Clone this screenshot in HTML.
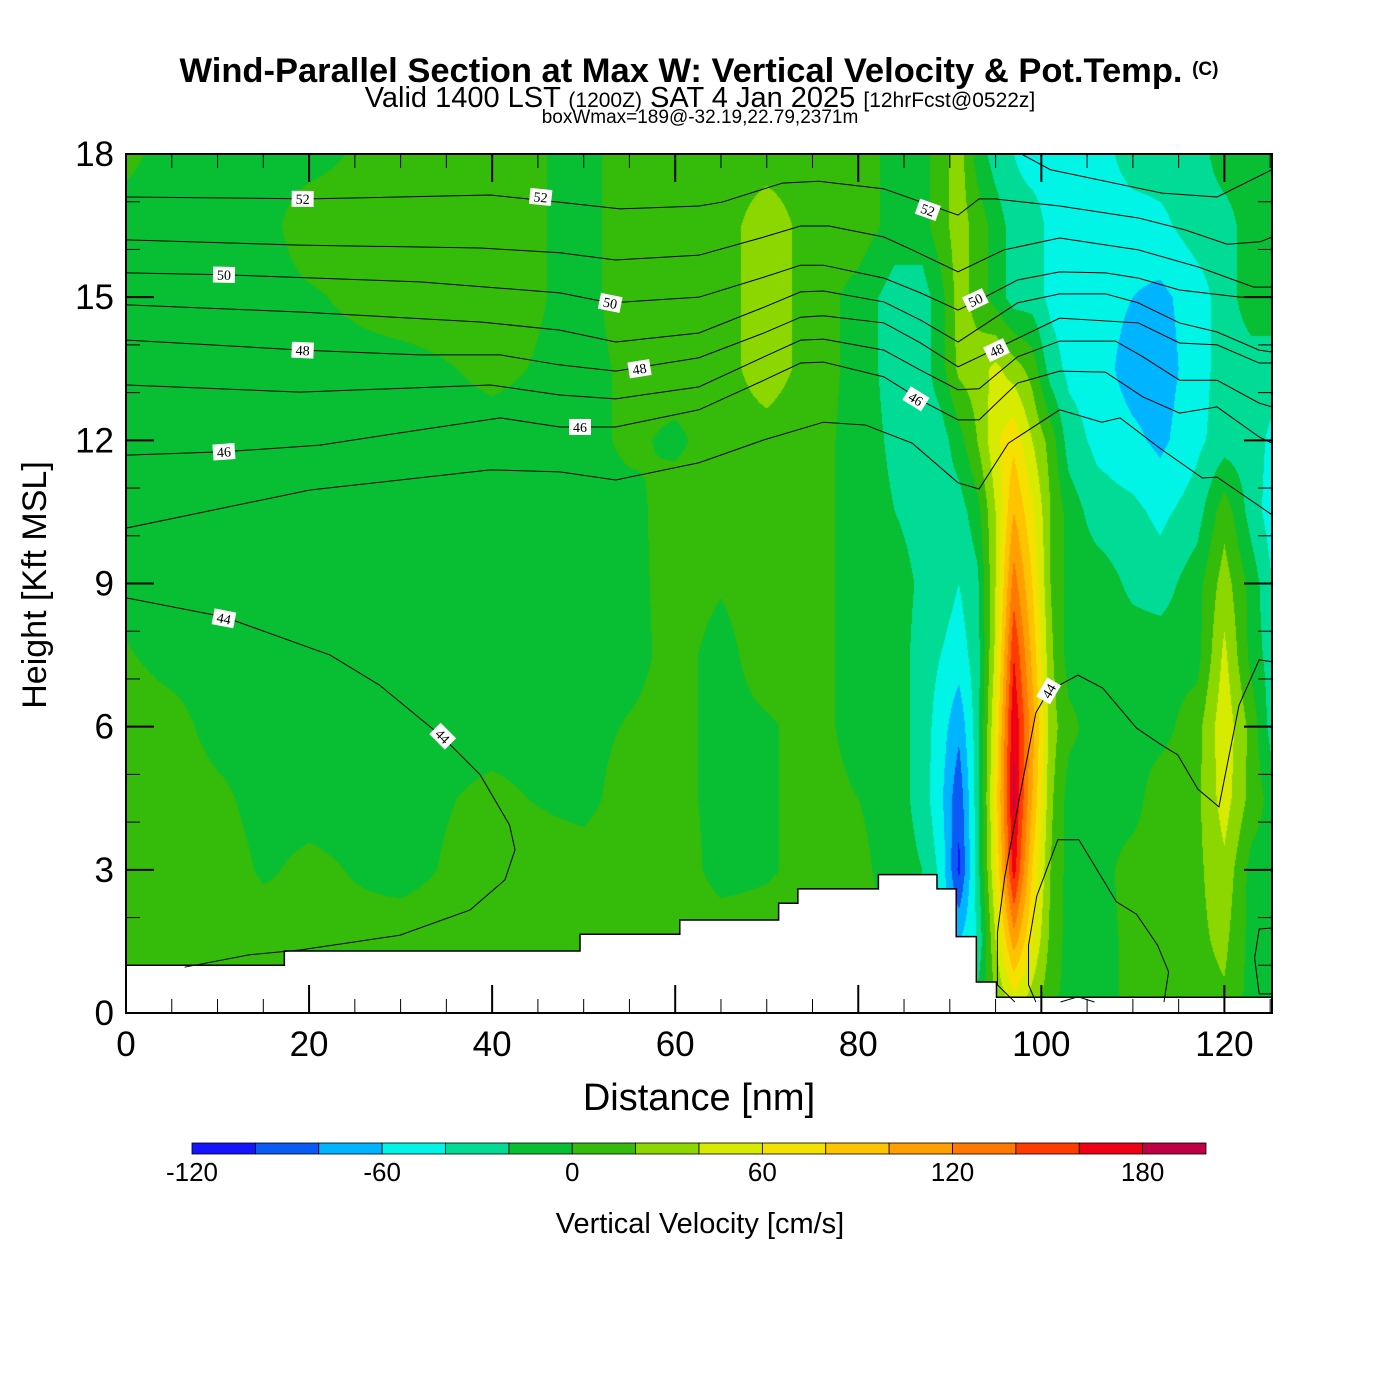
<!DOCTYPE html>
<html><head><meta charset="utf-8"><style>
html,body{margin:0;padding:0;background:#fff;}
#wrap{position:relative;width:1400px;height:1400px;font-family:"Liberation Sans",Arial,sans-serif;}
canvas{position:absolute;left:126px;top:154px;}
svg{position:absolute;left:0;top:0;}
</style></head><body>
<div id="wrap">
<canvas id="cv" width="1146" height="859"></canvas>
<svg id="sv" width="1400" height="1400">
<text x="699" y="82" text-anchor="middle" font-size="34.5" font-weight="bold">Wind-Parallel Section at Max W: Vertical Velocity &amp; Pot.Temp. <tspan font-size="19" dy="-7">(C)</tspan></text>
<text x="700" y="107" text-anchor="middle" font-size="29">Valid 1400 LST <tspan font-size="21">(1200Z)</tspan> SAT 4 Jan 2025 <tspan font-size="21">[12hrFcst@0522z]</tspan></text>
<text x="700" y="123" text-anchor="middle" font-size="19">boxWmax=189@-32.19,22.79,2371m</text>
<text x="699" y="1110" text-anchor="middle" font-size="38">Distance [nm]</text>
<text transform="translate(46,585) rotate(-90)" text-anchor="middle" font-size="34">Height [Kft MSL]</text>
<text x="700" y="1233" text-anchor="middle" font-size="29">Vertical Velocity [cm/s]</text>
</svg>
</div>
<script>
// ---- data ----
const xs=[0,5,10,15,20,30,40,50,55,60,65,70,75,80,84,87,89,91,93,95,97,99,101,103,106,110,113,117,120,123,125.2];
const ys=[0,1.5,3,4.5,6,7.5,9,10.5,12,13.5,15,16.5,18];
const w0=[12,12,12,12,12,12,12,12,12,12,12,12,12,12,-8,-8,-30,-30,-8,15,40,25,5,-8,-8,5,5,12,15,-8,-8];
const w1=[12,12,12,12,2,12,12,12,12,12,12,12,12,12,-8,-30,-50,-60,-40,40,110,60,15,-8,-8,5,10,15,25,-8,-8];
const w2=[12,12,12,-3,5,-8,12,12,12,12,-8,-3,8,5,-8,-20,-45,-105,-30,60,170,80,20,-8,-8,8,8,15,35,-8,-8];
const w3=[12,12,5,-8,-8,-8,5,-8,12,8,-8,-3,8,0,-8,-30,-55,-95,-30,70,185,100,25,-8,-8,-8,12,15,50,12,-8];
const w4=[12,8,-8,-8,-8,-8,-8,-8,2,8,-8,-3,8,-8,-8,-30,-50,-75,-30,60,180,110,30,5,-8,-8,-8,12,55,12,-30];
const w5=[2,-8,-8,-8,-8,-8,-8,-8,-8,8,-8,12,8,-8,-8,-30,-40,-50,-30,45,160,95,25,-8,-8,-8,-8,-8,45,-8,-30];
const w6=[-8,-8,-8,-8,-8,-8,-8,-8,-8,10,2,12,8,-8,-8,-25,-30,-40,-25,40,130,80,20,-8,-8,-25,-30,-8,30,-8,-40];
const w7=[-8,-8,-8,-8,-8,-8,-8,-8,-8,12,12,12,8,-8,-20,-30,-30,-30,-8,40,100,65,20,-8,-30,-35,-45,-30,12,-30,-50];
const w8=[-8,-8,-8,-8,-8,-8,-8,-8,5,-5,12,12,8,-8,-25,-30,-30,-8,20,55,75,40,12,-30,-45,-55,-65,-45,-30,-30,-45];
const w9=[-8,-8,-8,-8,-8,-8,5,-8,5,12,12,30,12,-8,-30,-30,-8,25,30,45,30,12,-30,-45,-50,-70,-70,-50,-30,-30,-30];
const w10=[-8,-8,-8,-8,-3,12,12,-8,12,12,12,30,12,-8,-30,-30,-8,30,12,-8,-30,-30,-45,-50,-50,-60,-65,-50,-30,-8,-8];
const w11=[-8,-8,-8,-8,12,12,12,-8,12,12,12,30,12,12,-8,-8,12,30,12,-8,-30,-30,-45,-50,-50,-50,-45,-30,-30,-8,-8];
const w12=[5,-8,-8,-8,-8,12,12,-8,12,12,12,12,12,12,-8,-8,12,30,-8,-30,-40,-50,-50,-50,-50,-30,-30,-30,-8,-8,-8];
const field=[w0,w1,w2,w3,w4,w5,w6,w7,w8,w9,w10,w11,w12];
const levels=[-120,-100,-80,-60,-40,-20,0,20,40,60,80,100,120,140,160,180,200];
const cbLabels=[-120,-60,0,60,120,180];
const xTicks=[0,20,40,60,80,100,120];
const yTicks=[0,3,6,9,12,15,18];
const terrainX=[0,17.3,49.6,60.5,71.3,73.4,82.2,88.6,90.7,92.9,95.1,125.2];
const terrainH=[1.0,1.3,1.65,1.95,2.3,2.6,2.9,2.6,1.6,0.65,0.33];
const thT0=[[98.0,17.98],[101.0,17.67],[113.2,17.18],[119.2,17.10],[125.2,17.67]];
const th52=[[0,17.10],[20.0,17.06],[39.8,17.14],[47.4,16.99],[54.0,16.85],[62.6,16.91],[65.1,16.99],[71.7,17.39],[75.7,17.43],[82.8,17.27],[90.9,16.72],[93.2,17.06],[94.9,17.06],[102.0,16.91],[110.6,16.66],[115.7,16.41],[120.3,16.11],[123.9,16.16],[125.2,16.26]];
const th51=[[0,16.20],[19.0,16.09],[38.7,16.03],[47.4,15.93],[53.5,15.78],[62.6,15.88],[69.7,16.26],[73.7,16.49],[76.8,16.49],[82.8,16.26],[85.9,15.99],[90.9,15.53],[95.9,15.99],[102.0,16.24],[110.6,15.99],[117.2,15.63],[123.2,15.21],[125.2,15.21]];
const th50=[[0,15.51],[10.7,15.47],[32.1,15.32],[47.4,15.09],[52.9,14.88],[62.6,15.00],[69.7,15.42],[73.7,15.67],[76.2,15.67],[82.8,15.40],[86.8,15.09],[90.9,14.73],[93.2,14.94],[97.4,15.36],[102.0,15.53],[107.0,15.51],[110.6,15.40],[115.1,15.15],[121.7,15.00],[125.2,15.00]];
const th49=[[0,14.84],[19.0,14.69],[38.7,14.48],[47.4,14.31],[53.5,14.06],[62.6,14.25],[69.7,14.79],[73.7,15.11],[76.2,15.13],[82.8,14.90],[86.8,14.52],[90.9,14.06],[97.4,14.88],[102.0,15.07],[107.0,15.07],[110.6,14.88],[115.1,14.46],[119.2,14.27],[123.8,13.89],[125.2,13.85]];
const th48=[[0,14.10],[19.3,13.89],[32.1,13.79],[40.9,13.79],[47.4,13.58],[53.5,13.45],[62.6,13.73],[69.7,14.25],[73.7,14.58],[76.2,14.61],[82.8,14.46],[86.8,14.04],[90.9,13.54],[95.5,13.96],[102.0,14.56],[110.6,14.46],[115.1,14.04],[119.2,14.00],[123.8,13.62],[125.2,13.62]];
const th47=[[0,13.16],[19.0,13.01],[39.8,13.16],[47.4,12.95],[53.5,12.87],[62.6,13.12],[69.7,13.75],[73.7,14.10],[76.2,14.12],[82.8,13.89],[86.8,13.47],[90.9,13.06],[93.2,13.08],[97.4,13.75],[102.0,14.08],[108.1,14.08],[111.1,13.75],[115.1,13.26],[119.2,13.26],[123.8,12.78],[125.2,12.70]];
const th46=[[0,11.69],[10.7,11.76],[21.2,11.90],[32.1,12.22],[40.9,12.47],[47.4,12.28],[53.5,12.28],[62.6,12.64],[69.7,13.26],[73.7,13.62],[76.2,13.64],[82.8,13.33],[87.4,12.78],[90.9,12.43],[93.2,12.43],[97.4,13.20],[102.0,13.45],[107.0,13.43],[111.1,12.91],[115.1,12.57],[119.2,12.70],[123.8,12.07],[125.2,11.94]];
const th45=[[0,10.16],[20.1,10.96],[39.8,11.38],[47.4,11.34],[53.5,11.17],[62.6,11.53],[69.7,12.01],[76.2,12.38],[80.8,12.32],[85.9,11.94],[90.9,11.11],[93.2,10.98],[96.4,11.94],[102.0,12.64],[106.6,12.38],[108.6,12.47],[113.2,11.80],[117.6,11.21],[119.2,11.23],[125.2,10.44]];
const th44a=[[0,8.70],[10.7,8.30],[22.3,7.50],[27.7,6.87],[34.6,5.78],[38.7,4.99],[41.9,3.94],[42.5,3.42],[41.4,2.79],[37.6,2.16],[29.9,1.63],[19.0,1.32],[13.5,1.22],[6.4,0.96]];
const th44b=[[97.1,0.23],[95.2,0.59],[95.2,1.68],[96.0,2.85],[97.5,4.40],[99.4,6.29],[100.8,6.75],[104.0,7.08],[106.7,6.81],[110.4,5.97],[113.1,5.62],[114.9,5.41],[117.1,4.69],[119.4,4.32],[121.6,6.45],[123.8,7.40],[125.2,7.36]];
const th44c=[[99.4,0.23],[98.6,0.59],[98.6,1.42],[99.5,2.45],[101.8,3.63],[104.1,3.63],[108.2,2.33],[110.4,2.07],[112.7,1.42],[113.9,0.86],[113.4,0.23]];
const th44d=[[102.1,0.23],[104.0,0.34],[105.8,0.23]];
const th44e=[[125.2,1.78],[123.8,1.76],[123.3,1.15],[123.8,0.40],[125.2,0.40]];
const thLines=[thT0,th52,th51,th50,th49,th48,th47,th46,th45,th44a,th44b,th44c,th44d,th44e];
const labelText=["52","52","52","50","50","50","48","48","48","46","46","46","44","44","44"];
const labelNm=[19.3,45.3,87.6,10.7,52.9,92.8,19.3,56.1,95.1,10.7,49.6,86.3,10.7,34.6,100.8];
const labelKft=[17.06,17.10,16.83,15.47,14.88,14.94,13.89,13.50,13.89,11.76,12.28,12.87,8.27,5.80,6.75];
const labelLine=[1,1,1,3,3,3,5,5,5,7,7,7,9,9,10];
const colors=["#1414FF","#0A5AF5","#00B4FF","#00F5E6","#00DC96","#08BE32","#35BB0A","#8CD700","#D7EB00","#F5E100","#FFC300","#FFA000","#FF7800","#FF3C00","#F00014","#C00046"];

// ---- axes ----
const X0=126,X1=1272,Y0=1013,Y1=154,XMAX=125.2,YMAX=18;
const sx=v=>X0+v*(X1-X0)/XMAX;
const sy=v=>Y0-v*(Y0-Y1)/YMAX;
const NS="http://www.w3.org/2000/svg";
const svg=document.getElementById('sv');
function mk(tag,attrs,parent){const e=document.createElementNS(NS,tag);for(const k in attrs)e.setAttribute(k,attrs[k]);(parent||svg).appendChild(e);return e;}
function hex(c){return [parseInt(c.substr(1,2),16),parseInt(c.substr(3,2),16),parseInt(c.substr(5,2),16)];}
const rgb=colors.map(hex);

// ---- field (bilinear, banded) ----
const cv=document.getElementById('cv');const ctx=cv.getContext('2d');
const W=cv.width,H=cv.height;const img=ctx.createImageData(W,H);
const colIdx=[],colT=[];
for(let px=0;px<W;px++){const v=(px+0.5)*XMAX/W;let i=0;while(i<xs.length-2&&xs[i+1]<v)i++;colIdx.push(i);colT.push(Math.min(1,Math.max(0,(v-xs[i])/(xs[i+1]-xs[i]))));}
for(let py=0;py<H;py++){
  const k=YMAX-(py+0.5)*YMAX/H;let j=0;while(j<ys.length-2&&ys[j+1]<k)j++;
  const u=Math.min(1,Math.max(0,(k-ys[j])/(ys[j+1]-ys[j])));
  const ra=field[j],rb=field[j+1];
  for(let px=0;px<W;px++){
    const i=colIdx[px],t=colT[px];
    const a=ra[i]*(1-t)+ra[i+1]*t,b=rb[i]*(1-t)+rb[i+1]*t;
    const v=a*(1-u)+b*u;
    let bi=Math.floor((v-levels[0])/20);if(bi<0)bi=0;if(bi>15)bi=15;
    const c=rgb[bi];const o=(py*W+px)*4;
    img.data[o]=c[0];img.data[o+1]=c[1];img.data[o+2]=c[2];img.data[o+3]=255;
  }
}
ctx.putImageData(img,0,0);

// ---- terrain ----
let tp=`M${sx(0)},${Y0}`;
let tl=`M${sx(0)},${sy(terrainH[0])}`;
for(let i=0;i<terrainH.length;i++){tp+=` L${sx(terrainX[i])},${sy(terrainH[i])} L${sx(terrainX[i+1])},${sy(terrainH[i])}`;tl+=` L${sx(terrainX[i])},${sy(terrainH[i])} L${sx(terrainX[i+1])},${sy(terrainH[i])}`;}
tp+=` L${sx(XMAX)},${Y0} Z`;
const terr=mk('path',{d:tp,fill:'#fff',stroke:'none'});


const terrLine=mk('path',{d:tl,fill:'none',stroke:'#000','stroke-width':1.5});



// ---- theta contours ----
thLines.forEach((ln,li)=>{
  const p=mk('polyline',{points:ln.map(q=>sx(q[0])+','+sy(q[1])).join(' '),fill:'none',stroke:'#000','stroke-width':1});
  
  
});
labelText.forEach((t,i)=>{
  const ln=thLines[labelLine[i]];
  let best=0,bd=1e9;
  for(let s=0;s<ln.length-1;s++){const mx=(ln[s][0]+ln[s+1][0])/2,my=(ln[s][1]+ln[s+1][1])/2;const d=Math.hypot(sx(mx)-sx(labelNm[i]),sy(my)-sy(labelKft[i]));if(d<bd){bd=d;best=s;}}
  const a=ln[best],b=ln[best+1];
  let ang=Math.atan2(sy(b[1])-sy(a[1]),sx(b[0])-sx(a[0]))*180/Math.PI;
  if(ang>90)ang-=180;if(ang<-90)ang+=180;
  const g=mk('g',{transform:`translate(${sx(labelNm[i])},${sy(labelKft[i])}) rotate(${ang})`});
  
  
  mk('rect',{x:-11,y:-8,width:22,height:16,fill:'#fff'},g);
  const tx=mk('text',{x:0,y:5,'text-anchor':'middle','font-size':14,'font-family':'Liberation Serif,serif'},g);
  tx.textContent=t;
});

// ---- frame & ticks ----
const fr=mk('rect',{x:X0,y:Y1,width:X1-X0,height:Y0-Y1,fill:'none',stroke:'#000','stroke-width':2});


for(let v=0;v<=125;v+=5){
  const major=v%20===0,L=major?28:14;
  mk('line',{x1:sx(v),y1:Y0,x2:sx(v),y2:Y0-L,stroke:'#000','stroke-width':major?2:1});
  mk('line',{x1:sx(v),y1:Y1,x2:sx(v),y2:Y1+L,stroke:'#000','stroke-width':major?2:1});
}
for(let v=0;v<=18;v++){
  const major=v%3===0,L=major?28:14;
  mk('line',{x1:X0,y1:sy(v),x2:X0+L,y2:sy(v),stroke:'#000','stroke-width':major?2:1});
  mk('line',{x1:X1,y1:sy(v),x2:X1-L,y2:sy(v),stroke:'#000','stroke-width':major?2:1});
}
xTicks.forEach(v=>{const t=mk('text',{x:sx(v),y:1056,'text-anchor':'middle','font-size':35});t.textContent=v;
  
  });
yTicks.forEach(v=>{const t=mk('text',{x:114,y:sy(v)+12,'text-anchor':'end','font-size':35});t.textContent=v;
  
  });

// ---- colorbar ----
const CB0=192,CB1=1206,CBY=1143,CBH=11;
const cbx=v=>CB0+(v-levels[0])*(CB1-CB0)/(levels[levels.length-1]-levels[0]);
for(let i=0;i<colors.length;i++){
  const r=mk('rect',{x:cbx(levels[i]),y:CBY,width:cbx(levels[i+1])-cbx(levels[i]),height:CBH,fill:colors[i],stroke:'#000','stroke-width':0.8});
  
  
}
cbLabels.forEach(v=>{const t=mk('text',{x:cbx(v),y:1181,'text-anchor':'middle','font-size':26});t.textContent=v;
  
  });
</script>
</body></html>
